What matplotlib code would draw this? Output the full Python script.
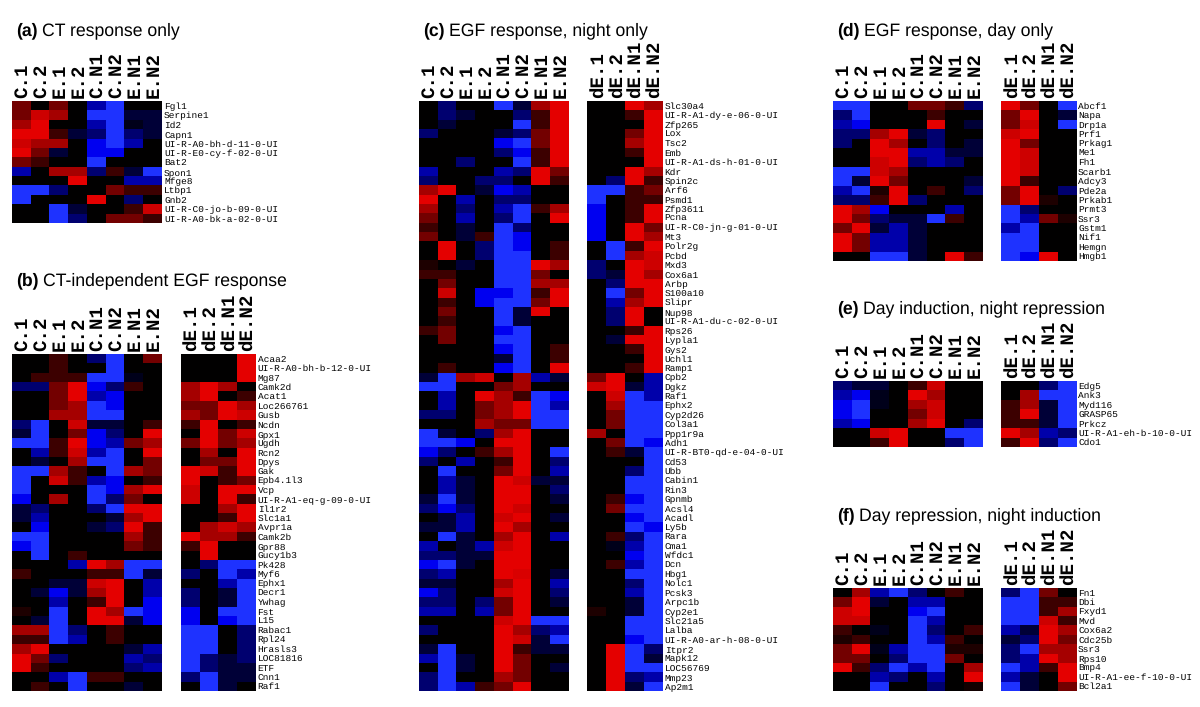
import matplotlib
matplotlib.use("Agg")
import matplotlib.pyplot as plt
import numpy as np
from matplotlib.colors import LinearSegmentedColormap
from matplotlib.transforms import ScaledTranslation

plt.rcParams["text.hinting"] = "no_hinting"
plt.rcParams["text.hinting_factor"] = 8

# ---------- shared tick labels ----------
cols8 = ["C.1", "C.2", "E.1", "E.2", "C.N1", "C.N2", "E.N1", "E.N2"]
cols4 = ["dE.1", "dE.2", "dE.N1", "dE.N2"]

# ---------- (a) ----------
title_a = "CT response only"
genes_a = ["Fgl1", "Serpine1", "Id2", "Capn1", "UI-R-A0-bh-d-11-0-UI", "UI-R-E0-cy-f-02-0-UI", "Bat2",
           "Spon1", "Mfge8", "Ltbp1", "Gnb2", "UI-R-C0-jo-b-09-0-UI", "UI-R-A0-bk-a-02-0-UI"]
left_a = [
    [2, 0, 2, 0, -3, -5, 0, 0],
    [2, 4, 3, 0, -5, -5, -1, -1],
    [3, 5, 0, 0, -3, -5, -0.5, -1],
    [5, 5, 1, -1, -2, -5, -2, -1],
    [4, 3, 3, 0, -4, -5, -3, 0],
    [5, 2, -1, 0, -4, -4, 0, 0],
    [2, 1, 0, 0, -5, 0, 0, 0],
    [-3, 0, 3, 3, -2, 1, -1, -5],
    [0, 0, 0, 5, 0, 0, -3, -3],
    [-5, -5, -2, 0, 0, 2, 1, 1],
    [-5, 0, 0, 0, 5, 0, -2, 0],
    [0, 0, -5, -1, 0, 0, 1, 4],
    [0, 0, -5, -2, 0, 2, 2, 1],
]

# ---------- (b) ----------
title_b = "CT-independent EGF response"
genes_b = ["Acaa2", "UI-R-A0-bh-b-12-0-UI", "Mg87", "Camk2d", "Acat1", "Loc266761", "Gusb", "Ncdn", "Gpx1",
           "Ugdh", "Rcn2", "Dpys", "Gak", "Epb4.1l3", "Vcp", "UI-R-A1-eq-g-09-0-UI", "Il1r2", "Slc1a1",
           "Avpr1a", "Camk2b", "Gpr88", "Gucy1b3", "Pk428", "Myf6", "Ephx1", "Decr1", "Ywhag", "Fst", "L15",
           "Rabac1", "Rpl24", "Hrasls3", "LOC81816", "ETF", "Cnn1", "Raf1"]
left_b = [
    [0, 0, 1, 0, -2, -5, 0, 2],
    [0, 0, 1, 0, 0, -5, 0, 0],
    [0, 1, 1, 1, -5, -5, -0.5, 0],
    [-2, -2, 2, 5, -4, -2, 1, 0],
    [0, 0, 2, 5, -3, -4, 0, 0],
    [0, 0, 2, 3, -5, -4, 0, 0],
    [0, 0, 3, 3, -5, -5, 0, 0],
    [-2, -5, 0, 4, -1, -1, 0, 1],
    [-1, -5, 0, 2, -4, -2, 0, 5],
    [-5, -5, 1, 5, -4, -3, 2, 3],
    [0, -3, 1, 4, -3, -5, 0, 5],
    [0, -1, 0, 3, -5, -5, 0, 2],
    [-5, -5, 3, 1, 0, -5, 3, 2],
    [-5, 0, 4, 1, -3, -4, 0, 1],
    [-5, 0, 0, 0, -5, -4, 3, 5],
    [-4, 0, 3, 0, -5, -2, 2, 0],
    [-1, -2, 0, 0, -2, -5, 5, 5],
    [-1, -3, 0, 0, 0, -1, 3, 5],
    [0, -4, 0, 0, -1, -2, 5, 1],
    [-5, -5, 0, 0, 0, 0, 3, 1],
    [-4, -5, 0, 0, 0, 0, 2, 1],
    [0, -5, 0, 1, 0, 0, 0, 0],
    [0, 0, 0, -3, 5, 3, -5, -5],
    [1, 0, 0, 0, 1, 1, -5, -1],
    [0, 0, -1, -1, 4, 5, 0, -3],
    [0, -1, -4, -1, 3, 5, 0, -3],
    [0, 0, -3, 0, 1, 5, 0, -4],
    [0.5, 0, -5, 0, 5, 3, -5, -4],
    [0, -1, -5, 0, 5, 5, -1, -4],
    [3, 3, -5, -2, 0, 1, 0, 0],
    [1, 1, -5, -3, 0, 1, 0, 0],
    [3, 5, 0, 0, 0, 0, -1, -3],
    [5, 2, -2, 0, 0, 0, -3, -2],
    [5, 1, 0, 0, 0, 0, -2, -3],
    [0, 0, -3, -5, 1, 1, 0, 0],
    [0, 1, 0, -5, 0, 0, -1, 0],
]
right_b = [
    [0, 0, 0, 5], [0, 0, 0, 5], [0, 0, 0, 5], [3, 5, 3, 0], [3, 5, 0, 1], [2, 2, 5, 3],
    [3, 2, 5, 4], [1, 5, 0, 1], [0, 5, 2, 4], [2, 5, 2, 3], [0, 3, 0, 5], [0, 2, 2, 5],
    [5, 4, 1, 5], [5, 0, 1, 2], [4, 0, 5, 5], [4, 0, 5, 1], [0, 0, 3, 5], [0, 0, 1, 5],
    [0, 3, 4, 3], [5, 3, 3, 1], [1, 5, 0, 0], [0, 5, 0, 0], [0, -2, -5, -5], [-2, 0, -5, -3],
    [0, 0, -3, -5], [-2, 0, -1, -5], [-2, 0, -1, -5], [-4, 0, -5, -5], [-4, 0, -4, -5],
    [-5, -5, 0, -2], [-5, -5, 0, -2], [-5, -5, 0, -2], [-5, -2, -1, -2], [-5, -2, -1, -1],
    [-2, -5, -1, -1], [0, -5, -1, 0],
]

# ---------- (c) ----------
title_c = "EGF response, night only"
genes_c = ["Slc30a4", "UI-R-A1-dy-e-06-0-UI", "Zfp265", "Lox", "Tsc2", "Emb", "UI-R-A1-ds-h-01-0-UI", "Kdr",
           "Spin2c", "Arf6", "Psmd1", "Zfp3611", "Pcna", "UI-R-C0-jn-g-01-0-UI", "Mt3", "Polr2g", "Pcbd",
           "Mxd3", "Cox6a1", "Arbp", "S100a10", "Slipr", "Nup98", "UI-R-A1-du-c-02-0-UI", "Rps26", "Lypla1",
           "Gys2", "Uchl1", "Ramp1", "Cpb2", "Dgkz", "Raf1", "Ephx2", "Cyp2d26", "Col3a1", "Ppp1r9a", "Adh1",
           "UI-R-BT0-qd-e-04-0-UI", "Cd53", "Ubb", "Cabin1", "Rin3", "Gpnmb", "Acsl4", "Acadl", "Ly5b", "Rara",
           "Cma1", "Wfdc1", "Dcn", "Hbg1", "Nolc1", "Pcsk3", "Arpc1b", "Cyp2e1", "Slc21a5", "Lalba",
           "UI-R-A0-ar-h-08-0-UI", "Itpr2", "Mapk12", "LOC56769", "Mmp23", "Ap2m1"]
left_c = [
    [0, -2, 0, 0, -5, -1, 3, 5],
    [0, -2, -1, 0, 0, -2, 1, 5],
    [0, -1, 0, 0, 0, -5, 1, 5],
    [-2, 0, 0, 0, -1, -2, 2, 5],
    [0, 0, 0, 0, -4, -5, 2, 5],
    [0, 0, 0, 0, -2, -4, 1, 5],
    [0, 0, -2, 0, 0, -5, 1, 5],
    [-3, 0, 0, 0, -3, -2, 5, 2],
    [-2, 0, 0, -2, -2, 0, 5, 1],
    [3, 5, 0, -1, -4, -3, 0, 0],
    [5, 0, -3, 0, -2, -2, 0, 0],
    [3, 0, -2, 0, -3, -5, 1, 3],
    [2, 0, -3, 0, -2, -5, 0, 5],
    [1, 0, -1, 0, -5, -2, 0, 0],
    [2, 0, -1, 1, -5, -4, 0, 0],
    [0, 5, 0, -2, -5, -4, 0, 1],
    [0, 5, 0, -2, -5, -5, 0, 1],
    [0.5, 0, -1, 0, -5, -5, 5, 3],
    [1, 1, 0, 0, -5, -5, 2, 0],
    [0, 2, 0, 0, -5, -5, 3, 3],
    [0, 4, 0, -4, -4, -5, 1, 5],
    [0, 1, 0, -4, -5, -5, 2, 5],
    [0, 2, 0, 0, -5, -1, 5, 0],
    [0, 1, 0, 0, -5, -1, 0, 0],
    [1, 2, 0, 0, -4, -5, 0, 0],
    [0, 2, 0, 0, -5, -5, 0, 0],
    [0, 0, 0, 0, -4, -5, 0, 1],
    [0, 0, 0, 0, -1, -5, 0, 1],
    [0, 1, 0, 0, -4, -5, 0, 5],
    [-1, -5, 3, 4, 0, 3, -3, -1],
    [-5, -5, 0, 0, 2, 3, 0, 0],
    [0, -3, 0, 5, 3, 1, -5, -4],
    [0, -3, 0, 2, 3, 5, -5, -3],
    [-2, -2, 0, 2, 3, 5, -5, -5],
    [0, 0, 0, 3, 2, 2, -5, -5],
    [-5, -1, 0, -2, 3, 5, 0, 0],
    [-5, -5, -4, 0, 5, 5, 0, 0],
    [-4, -2, 0, 1, 3, 5, 0, -5],
    [-2, 0, -3, 0, 1, 5, 0, -2],
    [0, -5, 0, 0, 2, 5, 0, -3],
    [0, -3, -1, 0, 5, 4, -1, -1],
    [0, -3, -1, 0, 5, 5, 0, -2],
    [-1, -5, -1, 0, 5, 5, 0, -1],
    [-2, -4, -2, 0, 5, 4, 0, 0],
    [0, -1, -3, 0, 4, 5, 0, -1],
    [-1, -1, -3, 0, 5, 3, 0, 0],
    [0, -5, -1, 0, 3, 5, 0, -3],
    [-3, 0, -1, -3, 4, 5, 0, 0],
    [-2, -2, -1, -1, 5, 5, 0, 0],
    [-4, -5, -1, 0, 5, 5, 0, 0],
    [-2, -3, 0, 0, 5, 4.5, 0, -1],
    [-1, -1, 0, 0, 3, 5, 0, -3],
    [-4, -2, 0, 0, 4, 5, 0, -2],
    [-2, -2, 0, -2, 2, 5, 0, -1],
    [-3, -3, 0, -3, 2, 5, 0, 0],
    [0, 0, 0, 0, 4, 5, -5, -5],
    [-2, 0, 0, 0, 5, 3, -2, -3],
    [0, 0, 0, 0, 5, 4, -1, -5],
    [-1, -5, 0, 0, 5, 1, -1, -1],
    [-3, -5, -1, 0, 5, 2, 0, 0],
    [0, -5, -1, 0, 5, 2, 0, -1],
    [-2, -5, 0, 0, 3, 2, 0, 0],
    [-2, -5, -3, 1, 2, 5, 0, 0],
]
right_c = [
    [0, 0, 5, 3], [0, 0, 1, 5], [0, 0, 0, 5], [0, 0, 2, 5], [0, 0, 3, 5], [0, 0, 1, 5], [0, 0, 0, 5],
    [0, 0, 5, 3], [0, -2, 5, 1], [-5, -5, 1, 2], [-5, 0, 1, 1], [-4, 0, 1, 5], [-4, 0, 1, 5],
    [-4, 0, 5, 2], [-4, 0, 5, 3], [0, -5, 1, 5], [0, -5, 3, 4], [-2, 0, 5, 4], [-2, -1, 5, 3],
    [0, -2, 5, 5], [0, -5, 2, 5], [0, -3, 3, 5], [0, -2, 5, 0], [0, -2, 5, 0], [0, 0, 1, 5],
    [0, -1, 5, 5], [0, 0, 1, 5], [0, 0, 0, 5], [0, 0, 1, 5], [2, 5, 0, -3], [4, 5, -1, -3],
    [0, 4, -5, -3], [0, 3, -5, -5], [0, 2, -5, -5], [0, 2, -5, -5], [3, 0, -5, -5], [0, 2, -5, -4],
    [0, 1, -1, -5], [0, 0, 0, -5], [0, 0, -2, -5], [0, 0, -5, -5], [0, 0, -5, -5], [0, 1, -4, -5],
    [0, 2, -5, -5], [0, 0, -4, -5], [0, 0, -5, -4], [0, 1, -2, -5], [0, -0.5, -3, -5], [0, 0, -4, -5],
    [0, 1, -3, -5], [0, 0, -5, -5], [0, 0, -2, -5], [0, 0, -3, -5], [0, 0, -1, -5], [0.5, 0, -1, -5],
    [0, 0, -5, -5], [0, 0, -5, -5], [0, 0, -4, -5], [0, 5, -5, -2], [0, 5, -5, -1], [0, 5, -5, -5],
    [0, 5, -2, -3], [0, 5, -1, -5],
]

# ---------- (d) ----------
title_d = "EGF response, day only"
genes_d = ["Abcf1", "Napa", "Drp1a", "Prf1", "Prkag1", "Me1", "Fh1", "Scarb1", "Adcy3", "Pde2a", "Prkab1",
           "Prmt3", "Ssr3", "Gstm1", "Nif1", "Hemgn", "Hmgb1"]
left_d = [
    [-5, -5, 0, 0, 2, 2, 1, -2],
    [-2, -5, 0, 0, 0, 1, 0, 0],
    [-3, -4, 0, 0, 0, 5, 0, -1],
    [-2, -2, 3, 5, -1, -2, 0, 0],
    [-2, 0, 5, 3, 0, -2, 0, -1],
    [0, 0, 5, 5, -3, -3, -1, -1],
    [0, 0, 4, 5, -2, -3, -2, 0],
    [-5, -5, 4, 3, 0, 0, 0, 0],
    [-5, -1, 5, 2, 0, 0, 0, -1],
    [-3, -5, 0.5, 5, 0, 1, 0, -2],
    [-2, -2, 1, 5, -2, 0, 0, 0],
    [5, 3, -4, 0, 0, 0, -3, 0],
    [5, 2, -2, -1, -1, -5, 1, 0],
    [2, 5, -1, -3, -1, 0, 0, 0],
    [5, 2, -3, -3, -1, 0, 0, 0],
    [5, 2, -3, -3, -1, 0, 0, 0],
    [0, 0, -5, -5, -1, 0, 5, 1],
]
right_d = [
    [5, 2, 0, -5], [2, 5, 0, -1], [2, 4, 0, -5], [4, 5, 0, 0], [5, 2, 0, 0], [5, 4, 0, 0], [5, 4, 0, 0],
    [5, 4, 0, 0], [5, 1, 0, 0], [2, 5, 0, -2], [2, 5, 0.5, 0], [-5, -2, 0, 0], [-5, -3, 2, 0.5],
    [-3, -5, 0, 0], [-5, -5, 0, 0], [-5, -5, 0, 0], [-5, -4, 5, 0],
]

# ---------- (e) ----------
title_e = "Day induction, night repression"
genes_e = ["Edg5", "Ank3", "Myd116", "GRASP65", "Prkcz", "UI-R-A1-eh-b-10-0-UI", "Cdo1"]
left_e = [
    [-2, -1, -1, 0, 1, 4, 0, 0],
    [-3, -4, -0.5, 0, 5, 3, 0, 0],
    [-4, -5, -0.5, 0, 3, 4, 0, 0],
    [-4, -5, 0, 0, 2, 4, 0, 0],
    [-3, -4, 0, 0, 3, 5, 0, -2],
    [0, 0, 4, 5, 0, 0, -5, -5],
    [0, 0, 1, 5, 0, 0, -2, -5],
]
right_e = [[0, 0, -2, -5], [0, 3, -5, -5], [1, 3, -1, -5], [1, 5, -1, -5], [1, 1, -1, -5], [5, 3, -3, -2],
           [1, 5, -2, -5]]

# ---------- (f) ----------
title_f = "Day repression, night induction"
genes_f = ["Fn1", "Dbi", "Fxyd1", "Mvd", "Cox6a2", "Cdc25b", "Ssr3", "Rps10", "Bmp4", "UI-R-A1-ee-f-10-0-UI",
           "Bcl2a1"]
left_f = [
    [0, 3, -3, -5, -2, 0, 1, 0],
    [2, 5, -1, 0, -3, -3, 0, 0],
    [4, 5, 0, 0, -4, -5, 0, 0],
    [4, 4, 0, 0, -5, -3, 0, 0],
    [1, 0, -0.5, 0, -5, -2, 0, 1],
    [0.5, 1, 0, 0, -5, -3, 1, 0],
    [2, 5, -0.5, -3, -5, -5, 0.5, 0.5],
    [2, 2, 0, -2, -5, -5, 2, 0],
    [5, 1, -2, -5, -3, -5, 0, 3],
    [0, 0, -3, -2, 0, -3, 0, 5],
    [0, 0, -5, 0, 0, -2, 0, 0.3],
]
right_f = [[-2, -5, 2, 0], [-5, -5, 1, 1], [-5, -5, 1, 3], [-5, -5, 4, 1], [-3, -1, 5, 3], [-1, -2, 5, 2],
           [-2, -5, 3, 3], [-2, -3, 5, 3], [-5, -3, 1, 5], [-3, -1, 0, 5], [-5, -1, 0, 2]]

# ---------- drawing ----------
W, H = 1200, 707
fig = plt.figure(figsize=(W / 100, H / 100), dpi=100, facecolor="white")

stops = [(0.0, (30, 50, 255)), (0.1, (0, 0, 240)), (0.2, (0, 0, 170)), (0.3, (0, 0, 110)), (0.4, (0, 0, 55)),
         (0.5, (0, 0, 0)),
         (0.6, (60, 0, 0)), (0.7, (115, 0, 0)), (0.8, (165, 0, 0)), (0.9, (205, 0, 0)), (1.0, (228, 0, 0))]
cmap = LinearSegmentedColormap.from_list("br", [(p, tuple(c / 255 for c in rgb)) for p, rgb in stops], N=256)


def heat(x0, x1, y0, y1, values, cols, genes=None):
    ax = fig.add_axes([x0 / W, 1 - y1 / H, (x1 - x0) / W, (y1 - y0) / H])
    ax.imshow(np.array(values, float), cmap=cmap, vmin=-5, vmax=5, aspect="auto", interpolation="nearest")
    for s in ax.spines.values():
        s.set_visible(False)
    ax.xaxis.tick_top()
    ax.set_xticks(range(len(cols)), cols, rotation=90, ha="center", va="bottom",
                  family="Liberation Mono", weight="bold", fontsize=13.8)
    ax.tick_params(axis="x", length=0, pad=2.2)
    shift = ScaledTranslation(1.2 / 100, 0, fig.dpi_scale_trans)
    for lab in ax.get_xticklabels():
        lab.set_transform(lab.get_transform() + shift)
    if genes is None:
        ax.set_yticks([])
    else:
        ax.yaxis.tick_right()
        ax.set_yticks(range(len(genes)), genes, family="Liberation Mono", fontsize=6.82)
        ax.tick_params(axis="y", length=0, pad=1.5)
    return ax


def title(x, y, tag, text):
    t = fig.text(x / W, 1 - y / H, tag, fontsize=12.7, weight="bold", family="Liberation Sans", va="baseline")
    ext = t.get_window_extent(fig.canvas.get_renderer())
    fig.text((ext.x1 + 4) / W, 1 - y / H, text, fontsize=12.7, family="Liberation Sans", va="baseline")


heat(12, 162, 101, 223, left_a, cols8, genes_a)
title(16.5, 35, "(a)", title_a)

heat(12, 162, 354, 690.7, left_b, cols8)
heat(180.5, 255.5, 354, 690.7, right_b, cols4, genes_b)
title(16.5, 285, "(b)", title_b)

heat(419, 569, 101, 690.7, left_c, cols8)
heat(587, 662.5, 101, 690.7, right_c, cols4, genes_c)
title(423.5, 35, "(c)", title_c)

heat(833, 983, 101, 260.7, left_d, cols8)
heat(1001, 1076, 101, 260.7, right_d, cols4, genes_d)
title(837.5, 35, "(d)", title_d)

heat(833, 983, 381, 446.7, left_e, cols8)
heat(1001, 1076, 381, 446.7, right_e, cols4, genes_e)
title(837.5, 313, "(e)", title_e)

heat(833, 983, 587.7, 690.7, left_f, cols8)
heat(1001, 1076, 587.7, 690.7, right_f, cols4, genes_f)
title(837.5, 520, "(f)", title_f)

fig.savefig("out.png", dpi=100, facecolor="white")
